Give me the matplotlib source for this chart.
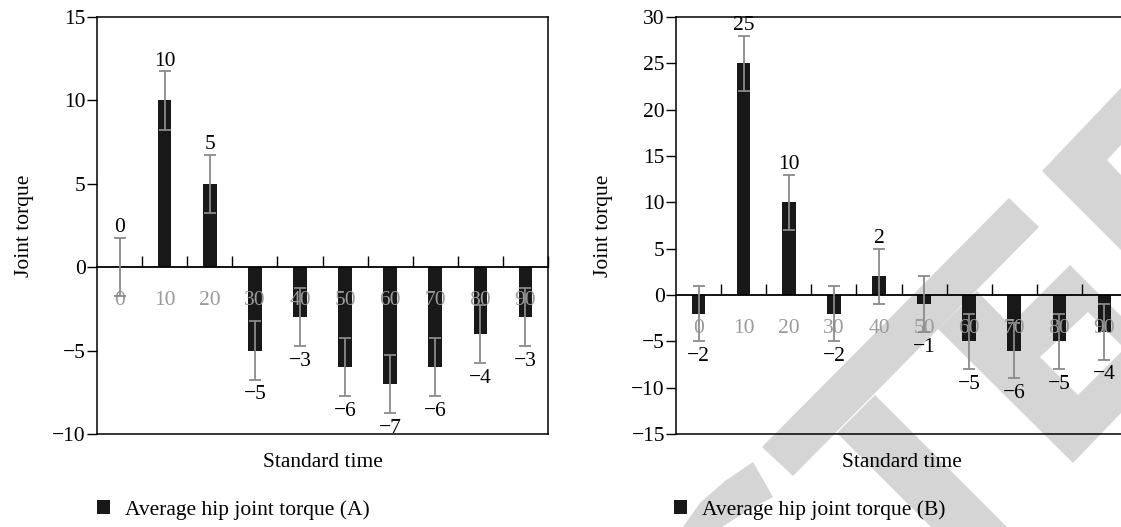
import matplotlib
matplotlib.use("Agg")
import matplotlib.pyplot as plt
from matplotlib.patches import Polygon
import numpy as np

categories = ["0", "10", "20", "30", "40", "50", "60", "70", "80", "90"]
values_a = [0, 10, 5, -5, -3, -6, -7, -6, -4, -3]
errors_a = [1.75] * 10
values_b = [-2, 25, 10, -2, 2, -1, -5, -6, -5, -4]
errors_b = [3] * 10
ylim_a = (-10, 15)
ylim_b = (-15, 30)
yticks_a = [-10, -5, 0, 5, 10, 15]
yticks_b = [-15, -10, -5, 0, 5, 10, 15, 20, 25, 30]
legend_a = "Average hip joint torque (A)"
legend_b = "Average hip joint torque (B)"

plt.rcParams['font.family'] = ['Liberation Serif', 'DejaVu Serif']
plt.rcParams['axes.unicode_minus'] = True
FS = 15.5

W, H = 1121, 527
fig = plt.figure(figsize=(W / 100, H / 100), dpi=100)

# light-grey watermark pieces (decoration, in figure pixel space)
WM = '#d5d5d5'
wm_shapes = [
    [(762, 447), (1009, 198), (1039, 227), (793, 476)],
    [(837, 433), (875, 395), (1007, 527), (931, 527)],
    [(1042, 171), (1121, 88), (1121, 145), (1107, 160), (1121, 175), (1121, 250)],
    [(938, 329), (977, 291), (1010, 325), (1070, 265), (1121, 316), (1121, 413), (1073, 463)],
    [(683, 527), (700, 503), (725, 481), (753, 462), (773, 497), (752, 508), (722, 527)],
]
wm_holes = [
    [(1040, 357), (1088, 312), (1121, 345), (1121, 352), (1078, 395)],
]
def to_fig(pts):
    return [(px / W, 1 - py / H) for px, py in pts]
for pts in wm_shapes:
    fig.add_artist(Polygon(to_fig(pts), closed=True, facecolor=WM, edgecolor='none',
                           transform=fig.transFigure, zorder=-5))
for pts in wm_holes:
    fig.add_artist(Polygon(to_fig(pts), closed=True, facecolor='white', edgecolor='none',
                           transform=fig.transFigure, zorder=-4))

def fmt(v):
    s = f"{v:g}"
    return s.replace('-', '\u2212')

def panel(rect, values, errors, ylim, yticks, legend_text, leg_xy, ylab_x):
    ax = fig.add_axes(rect)
    ax.patch.set_alpha(0)
    x = np.arange(len(categories))
    bars = ax.bar(x, values, width=0.3, color='#181818', zorder=2, label=legend_text)
    ax.errorbar(x, values, yerr=errors, fmt='none', ecolor='#8a8a8a',
                elinewidth=1.3, capsize=4.5, capthick=1.3, zorder=6)
    ax.set_xlim(-0.5, len(categories) - 0.5)
    ax.set_ylim(*ylim)
    ax.set_yticks(yticks)
    ax.set_yticklabels([fmt(t) for t in yticks])
    ax.tick_params(axis='y', direction='out', length=7, width=1, pad=1, labelsize=FS)
    ax.tick_params(axis='x', bottom=False, labelbottom=False)
    for sp in ax.spines.values():
        sp.set_linewidth(1.1)
    for xi, v, e in zip(x, values, errors):
        if v >= 0:
            ax.annotate(fmt(v), (xi, v + e), xytext=(0, 0.5), textcoords='offset points',
                        ha='center', va='bottom', fontsize=FS, zorder=7)
        else:
            ax.annotate(fmt(v), (xi, v - e), xytext=(0, -4), textcoords='offset points',
                        ha='center', va='top', fontsize=FS, zorder=7)
    zero_frac = (0 - ylim[0]) / (ylim[1] - ylim[0])
    sec = ax.secondary_xaxis(zero_frac)
    sec.set_zorder(5)
    sec.spines['bottom'].set_linewidth(1.3)
    sec.set_xticks(np.arange(len(categories)) + 0.5)
    sec.set_xticklabels([''] * len(categories))
    sec.set_xticks(x, minor=True)
    sec.set_xticklabels(categories, minor=True)
    sec.tick_params(axis='x', which='major', direction='in', length=8, width=1)
    sec.tick_params(axis='x', which='minor', length=0, pad=17, labelsize=FS,
                    labelcolor='#9a9a9a')
    ax.set_xlabel("Standard time", fontsize=FS, labelpad=13.5)
    ax.set_ylabel("Joint torque", fontsize=FS)
    ax.yaxis.set_label_coords(ylab_x, 0.5)
    fig.legend(handles=[bars], labels=[legend_text], loc='center left',
               bbox_to_anchor=leg_xy, frameon=False, fontsize=FS,
               handlelength=0.6, handleheight=0.6, handletextpad=0.7,
               borderpad=0, borderaxespad=0)
    return ax

axw = 451 / W
axh = 417 / H
axb = (H - 434) / H
panel([97 / W, axb, axw, axh], values_a, errors_a, ylim_a, yticks_a, legend_a,
      (97 / W, 1 - 510 / H), -0.14)
panel([676 / W, axb, axw, axh], values_b, errors_b, ylim_b, yticks_b, legend_b,
      (674 / W, 1 - 510 / H), -0.14)

fig.savefig("out.png", dpi=100)
